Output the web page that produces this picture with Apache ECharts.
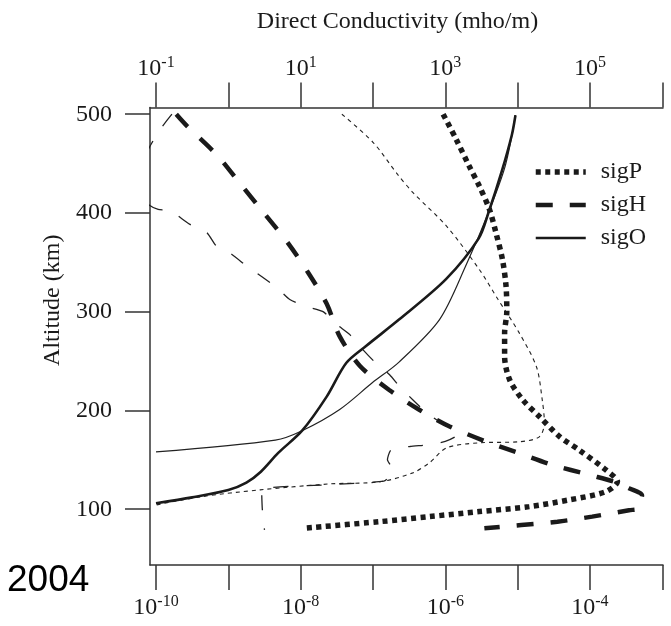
<!DOCTYPE html>
<html><head><meta charset="utf-8">
<script src="https://cdn.jsdelivr.net/npm/echarts@6/dist/echarts.min.js"></script>
<style>html,body{margin:0;padding:0;background:#fff}#c{width:671px;height:626px}</style>
</head><body><div id="c"></div>
<script>
// Axis ticks (log10 exponents)
const bottomTicks = [-10, -9, -8, -7, -6, -5, -4, -3];
const bottomLabels = [-10, -8, -6, -4];
const topTicks = [-1, 0, 1, 2, 3, 4, 5, 6];
const topLabels = [-1, 1, 3, 5];
const altTicks = [100, 200, 300, 400, 500];

// Thick curves: log10 of conductivity (bottom axis) vs altitude (km)
const sigP_log = [-6.03,-5.85,-5.67,-5.53,-5.39,-5.30,-5.21,-5.16,-5.15,-5.18,-5.18,-5.11,-4.93,-4.70,-4.42,-4.15,-3.78,-3.62,-3.78,-4.29,-4.84,-5.53,-6.22,-6.91,-7.97];
const sigP_alt = [500,474.6,447.5,427.3,403.6,380,352.9,325.8,300,278.5,254.8,231,210.8,193.9,173.6,160,139.8,128,117.8,109.4,102.6,97.6,92.5,87.4,80.7];

const sigH_log = [-9.72,-9.57,-9.15,-8.84,-8.52,-8.19,-7.90,-7.64,-7.46,-7.18,-6.78,-6.36,-5.94,-5.44,-4.98,-4.52,-4.01,-3.60,-3.46,-3.28,-3.30,-3.32,-3.46,-3.97,-4.45,-4.95,-5.46];
const sigH_alt = [500,488,458,430,401,371,340,308,275,245,221,200.7,183.8,168.6,156.8,144.9,134.8,126.4,121.3,114,108,100.7,99,92.5,87.4,84,80.7];

const sigO_log = [-10.0,-9.5,-9.0,-8.75,-8.55,-8.31,-7.98,-7.64,-7.37,-7.10,-6.64,-5.99,-5.54,-5.40,-5.22,-5.08,-5.03];
const sigO_alt = [106,112,119.5,127,138,157,179.5,214,248,265,292,333,374,401,442,479,499];

// Thin curves: log10 of direct conductivity in mho/m (top axis) vs altitude (km)
const dirP_log = [1.57,2.00,2.34,2.55,3.02,3.47,3.73,4.02,4.26,4.34,4.37,4.30,4.02,3.47,3.02,2.78,2.55,2.09,1.40,0.44,-0.39,-0.99];
const dirP_alt = [500,471.6,439.1,420.9,386.4,342.8,312.3,278.8,244.3,210.9,187.6,173.3,168.3,167.2,162.2,147,136.8,127.7,125.6,119.6,112.5,104.4];

const dirH_log = [-0.78,-0.97,-1.15,-1.12,-0.97,-0.81,-0.53,-0.30,-0.16,0.05,0.26,0.46,0.67,0.85,1.08,1.31,1.50,1.68,1.86,2.02,2.23,2.37,2.55,2.74,3.02,3.17,3.00,2.76,2.51,2.25,2.20,2.28,2.23,2.15,1.40,0.46,0.47,0.50];
const dirH_alt = [500,481.7,455,410,403.6,402.6,388.4,380.3,366,358,345.8,335.6,324.5,312.3,305.2,300.1,287,276.8,261.6,249.4,236.2,224,210.9,197.7,183.5,175.4,168.6,165.2,163.5,160,150,140,133,128.5,124.8,119.6,100,79];

const dirO_log = [-1.0,0.65,1.02,1.54,1.99,2.36,2.92,3.28,3.60,3.83,3.97];
const dirO_alt = [158,170,179.5,201,228,249,292,346,401,448,499];

const SERIF = 'Liberation Serif, Times New Roman, serif';
const INK = '#1a1a1a';
const AX = '#333';

function pairs(xs, ys) { return xs.map((x, i) => [x, ys[i]]); }
function pow10(v) { return '{b|10}{s|' + v + '}'; }
const powRich = {
  b: {fontFamily: SERIF, fontSize: 24, lineHeight: 26, verticalAlign: 'bottom', color: INK},
  s: {fontFamily: SERIF, fontSize: 16, lineHeight: 16, verticalAlign: 'top', color: INK}
};

const chart = echarts.init(document.getElementById('c'), null, {renderer: 'canvas'});
chart.setOption({
  animation: false,
  backgroundColor: '#fff',
  color: [INK],
  grid: {left: 150, right: 8, top: 107.5, bottom: 61, containLabel: false},
  legend: {
    data: ['sigP', 'sigH', 'sigO'],
    orient: 'vertical', left: 533, top: 160, padding: 0,
    itemWidth: 50, itemHeight: 14, itemGap: 9,
    textStyle: {fontFamily: SERIF, fontSize: 24, color: INK, padding: [0, 0, 0, 10]},
    lineStyle: {width: 'inherit'},
    itemStyle: {color: 'rgba(0,0,0,0)', borderWidth: 0, opacity: 0}
  },
  graphic: [{
    type: 'text', left: 7, top: 562,
    style: {text: '2004', fontFamily: 'Liberation Sans, Arial, sans-serif', fontSize: 37, fill: '#000'}
  }],
  xAxis: [{
    type: 'value', position: 'bottom', min: -10.083, max: -2.99,
    axisLine: {show: true, onZero: false, lineStyle: {color: AX, width: 1.5}},
    axisTick: {show: true, customValues: bottomTicks, length: 25, lineStyle: {color: AX, width: 1.5}},
    axisLabel: {customValues: bottomLabels, margin: 29, formatter: pow10, rich: powRich},
    splitLine: {show: false}
  }, {
    type: 'value', position: 'top', min: -1.083, max: 6.01,
    name: 'Direct Conductivity (mho/m)', nameLocation: 'middle', nameGap: 74,
    nameTextStyle: {fontFamily: SERIF, fontSize: 24, color: INK, padding: [0, 18, 0, 0]},
    axisLine: {show: true, onZero: false, lineStyle: {color: AX, width: 1.5}},
    axisTick: {show: true, customValues: topTicks, length: 25, lineStyle: {color: AX, width: 1.5}},
    axisLabel: {customValues: topLabels, margin: 27, formatter: pow10, rich: powRich},
    splitLine: {show: false}
  }],
  yAxis: {
    type: 'value', min: 43.5, max: 506.8,
    name: 'Altitude (km)', nameLocation: 'middle', nameGap: 85, nameRotate: 90,
    nameTextStyle: {fontFamily: SERIF, fontSize: 24, color: INK, padding: [0, 0, 0, 72]},
    axisLine: {show: true, onZero: false, lineStyle: {color: AX, width: 1.5}},
    axisTick: {show: true, customValues: altTicks, length: 25, lineStyle: {color: AX, width: 1.5}},
    axisLabel: {customValues: altTicks, margin: 38, fontFamily: SERIF, fontSize: 24, color: INK},
    splitLine: {show: false}
  },
  series: [
    {name: 'sigP (direct)', type: 'line', xAxisIndex: 1, data: pairs(dirP_log, dirP_alt), symbol: 'none', smooth: 0.3,
     itemStyle: {color: INK}, lineStyle: {color: '#222', width: 1.1, type: [4, 4]}, z: 2},
    {name: 'sigH (direct)', type: 'line', xAxisIndex: 1, data: pairs(dirH_log, dirH_alt), symbol: 'none', smooth: 0.2,
     itemStyle: {color: INK}, lineStyle: {color: '#222', width: 1.3, type: [15, 18]}, z: 2},
    {name: 'sigO (direct)', type: 'line', xAxisIndex: 1, data: pairs(dirO_log, dirO_alt), symbol: 'none', smooth: 0.3,
     itemStyle: {color: INK}, lineStyle: {color: '#222', width: 1.2}, z: 2},
    {name: 'sigP', type: 'line', xAxisIndex: 0, data: pairs(sigP_log, sigP_alt), symbol: 'none', smooth: 0.3,
     itemStyle: {color: INK}, lineStyle: {color: INK, width: 5.5, type: [5, 4.5], cap: 'butt'}, z: 3},
    {name: 'sigH', type: 'line', xAxisIndex: 0, data: pairs(sigH_log, sigH_alt), symbol: 'none', smooth: 0.3,
     itemStyle: {color: INK}, lineStyle: {color: INK, width: 4.5, type: [17, 17], cap: 'butt'}, z: 3},
    {name: 'sigO', type: 'line', xAxisIndex: 0, data: pairs(sigO_log, sigO_alt), symbol: 'none', smooth: 0.3,
     itemStyle: {color: INK}, lineStyle: {color: INK, width: 2.6}, z: 3}
  ]
});
</script></body></html>
